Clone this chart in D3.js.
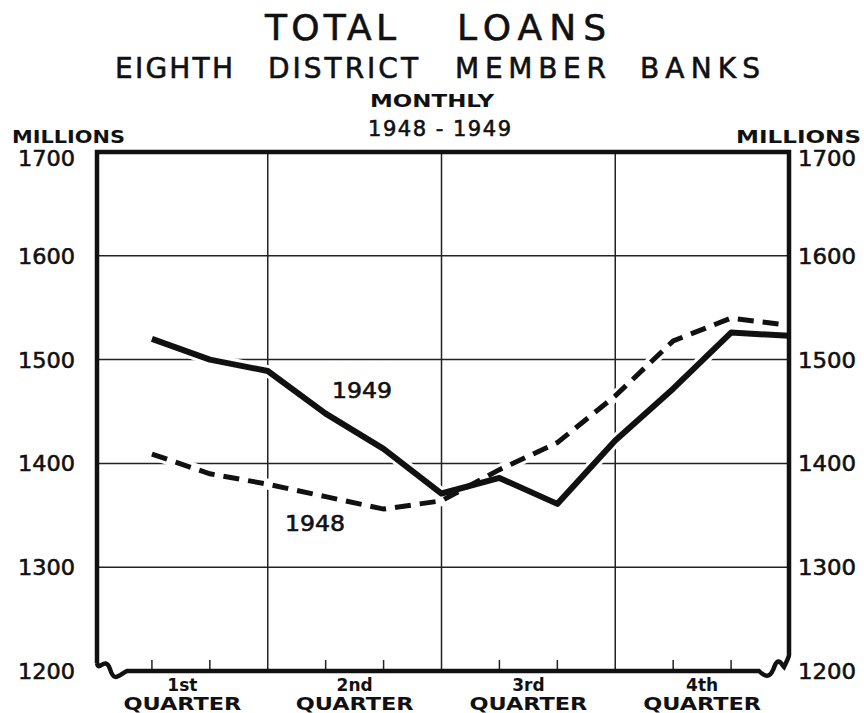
<!DOCTYPE html>
<html>
<head>
<meta charset="utf-8">
<script src="https://cdn.jsdelivr.net/npm/d3@7"></script>
<style>
  body { margin: 0; background: #fff; }
  svg { display: block; }
  text { font-family: "DejaVu Sans", "Liberation Sans", sans-serif; fill: #111; }
  .heavy { stroke: #111; stroke-width: 0.6px; }
</style>
</head>
<body>
<div id="chart"></div>
<script>
// month index 1..12 = Jan..Dec
const months = [1, 2, 3, 4, 5, 6, 7, 8, 9, 10, 11, 12];
const loans1949 = [1520, 1500, 1489, 1448, 1414, 1371, 1386, 1361, 1422, 1472, 1526, 1523];
const loans1948 = [1409, 1390, 1380, 1368, 1356, 1364, 1394, 1420, 1465, 1518, 1540, 1533];
const yTicks = [1200, 1300, 1400, 1500, 1600, 1700];
const quarterLabels = ['1st', '2nd', '3rd', '4th'];
const quarterBounds = [3, 6, 9];
const monthTicks = [1, 2, 4, 5, 7, 8, 10, 11];

function drawChart() {
    const width = 864;
    const height = 713;

    const svg = d3.select('#chart').append('svg')
        .attr('width', width)
        .attr('height', height);

    const x = d3.scaleLinear().domain([0, 12]).range([94, 789]);
    const y = d3.scaleLinear().domain([1200, 1700]).range([671, 152]);

    const left = 97, right = x(12), top = y(1700), bottom = y(1200);

    // helper: lettered word stretched to a given span
    function word(str, x0, x1, yy, size, cls, adjust) {
        return svg.append('text')
            .attr('class', cls || 'heavy')
            .attr('x', x0).attr('y', yy)
            .style('font-size', size + 'px')
            .attr('textLength', x1 - x0)
            .attr('lengthAdjust', adjust || 'spacing')
            .text(str);
    }

    // Titles
    word('TOTAL', 265, 396, 40, 36);
    word('LOANS', 457, 606, 40, 36);
    word('EIGHTH', 115, 233, 78, 28);
    word('DISTRICT', 268, 418, 78, 28);
    word('MEMBER', 455, 606, 78, 28);
    word('BANKS', 640, 760, 78, 28);

    word('MONTHLY', 370, 494, 107, 18, 'plain', 'spacingAndGlyphs').style('font-weight', 'bold');
    word('1948 - 1949', 368, 511, 136, 21);

    // MILLIONS labels
    word('MILLIONS', 12, 125, 143, 17, 'plain', 'spacingAndGlyphs').style('font-weight', 'bold');
    word('MILLIONS', 736, 861, 143, 17, 'plain', 'spacingAndGlyphs').style('font-weight', 'bold');

    // Horizontal gridlines
    svg.append('g')
        .selectAll('line')
        .data(yTicks.filter(d => d > 1200 && d < 1700))
        .enter()
        .append('line')
        .attr('x1', left).attr('x2', right)
        .attr('y1', d => y(d)).attr('y2', d => y(d))
        .attr('stroke', '#222').attr('stroke-width', 1.5);

    // Vertical quarter lines
    svg.append('g')
        .selectAll('line')
        .data(quarterBounds)
        .enter()
        .append('line')
        .attr('x1', d => x(d)).attr('x2', d => x(d))
        .attr('y1', top).attr('y2', bottom)
        .attr('stroke', '#222').attr('stroke-width', 1.5);

    // Month ticks on baseline
    svg.append('g')
        .selectAll('line')
        .data(monthTicks)
        .enter()
        .append('line')
        .attr('x1', d => x(d)).attr('x2', d => x(d))
        .attr('y1', bottom - 11).attr('y2', bottom)
        .attr('stroke', '#222').attr('stroke-width', 1.5);

    // Y tick labels (both sides)
    svg.append('g')
        .selectAll('text')
        .data(yTicks)
        .enter()
        .append('text')
        .attr('class', 'heavy')
        .attr('x', 18)
        .attr('y', d => y(d) + (d === 1700 ? 14 : 8))
        .attr('textLength', 57).attr('lengthAdjust', 'spacingAndGlyphs')
        .style('font-size', '22px')
        .text(d => d);

    svg.append('g')
        .selectAll('text')
        .data(yTicks)
        .enter()
        .append('text')
        .attr('class', 'heavy')
        .attr('x', 798)
        .attr('y', d => y(d) + (d === 1700 ? 14 : 8))
        .attr('textLength', 58).attr('lengthAdjust', 'spacingAndGlyphs')
        .style('font-size', '22px')
        .text(d => d);

    // Lines with white halo (breaks the grid like the original drawing)
    const line = d3.line()
        .x(d => x(d[0]))
        .y(d => y(d[1]));

    const d48 = months.map((m, i) => [m, loans1948[i]]);
    const d49 = months.map((m, i) => [m, loans1949[i]]);

    svg.append('path').datum(d48).attr('d', line)
        .attr('fill', 'none').attr('stroke', '#fff').attr('stroke-width', 11);
    svg.append('path').datum(d49).attr('d', line)
        .attr('fill', 'none').attr('stroke', '#fff').attr('stroke-width', 12);

    svg.append('path').datum(d48).attr('d', line)
        .attr('fill', 'none').attr('stroke', '#111')
        .attr('stroke-width', 5)
        .attr('stroke-dasharray', '16,9');

    svg.append('path').datum(d49).attr('d', line)
        .attr('fill', 'none').attr('stroke', '#111')
        .attr('stroke-width', 6)
        .attr('stroke-linejoin', 'round');

    // Series labels
    word('1949', 332, 392, 398, 21, 'heavy', 'spacingAndGlyphs');
    word('1948', 285, 345, 531, 21, 'heavy', 'spacingAndGlyphs');

    // Frame: top, left, right and baseline with scale-break squiggles
    const frame = d3.path();
    frame.moveTo(left, bottom - 8);
    frame.lineTo(left, top);
    frame.lineTo(right, top);
    frame.lineTo(right, bottom - 16);
    svg.append('path').attr('d', frame.toString())
        .attr('fill', 'none').attr('stroke', '#111').attr('stroke-width', 4.5);

    const base = d3.path();
    base.moveTo(left, bottom - 8);
    base.bezierCurveTo(left + 2, bottom + 2, left + 8, bottom - 16, left + 13, bottom - 2);
    base.bezierCurveTo(left + 17, bottom + 12, left + 22, bottom + 4, left + 30, bottom);
    base.lineTo(right - 30, bottom);
    base.bezierCurveTo(right - 22, bottom + 8, right - 18, bottom + 6, right - 14, bottom - 6);
    base.bezierCurveTo(right - 10, bottom - 14, right - 7, bottom - 6, right - 5, bottom - 4);
    base.bezierCurveTo(right - 2, bottom - 10, right, bottom - 14, right, bottom - 16);
    svg.append('path').attr('d', base.toString())
        .attr('fill', 'none').attr('stroke', '#111').attr('stroke-width', 4.5);

    // Quarter labels
    const qCenters = [0, 1, 2, 3].map(i => (Math.max(left, x(i * 3)) + x(i * 3 + 3)) / 2);
    const q = svg.append('g')
        .selectAll('g')
        .data(quarterLabels)
        .enter()
        .append('g')
        .attr('transform', (d, i) => `translate(${qCenters[i]},0)`);
    q.append('text')
        .attr('y', 691)
        .attr('text-anchor', 'middle')
        .style('font-size', '17px').style('font-weight', 'bold')
        .text(d => d);
    q.append('text')
        .attr('x', -59)
        .attr('y', 710)
        .style('font-size', '17px').style('font-weight', 'bold')
        .attr('textLength', 118).attr('lengthAdjust', 'spacingAndGlyphs')
        .text('QUARTER');
}

drawChart();
</script>
</body>
</html>
